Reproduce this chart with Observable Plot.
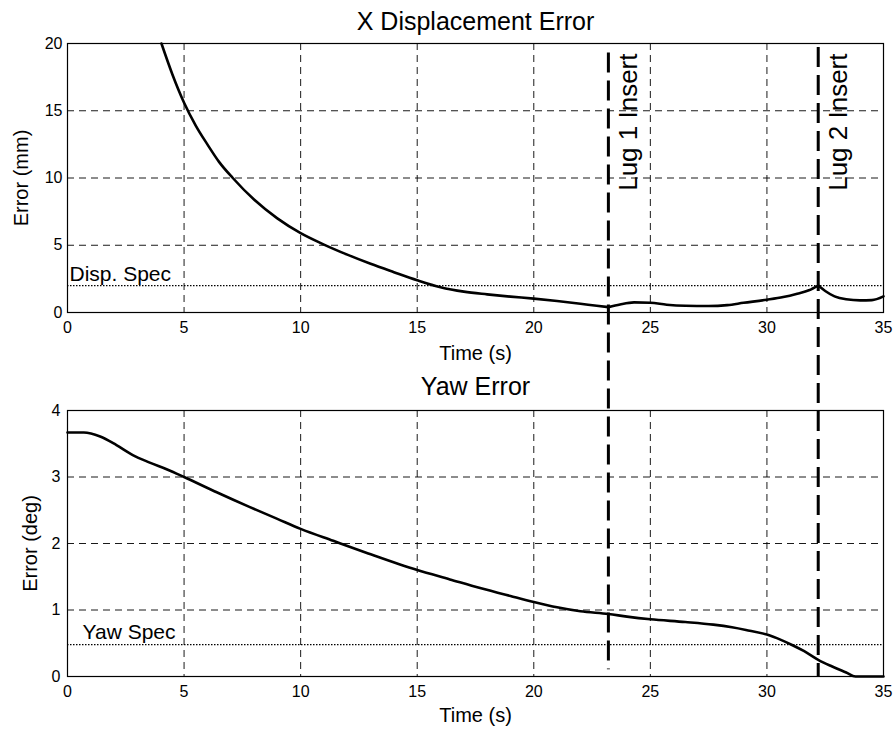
<!DOCTYPE html>
<html><head><meta charset="utf-8">
<script src="https://cdn.jsdelivr.net/npm/d3@7"></script>
<script src="https://cdn.jsdelivr.net/npm/@observablehq/plot@0.6"></script>
<style>
body{margin:0;background:#fff;}
#fig{position:relative;width:896px;height:731px;overflow:hidden;background:#fff;}
#fig svg{position:absolute;left:0;}
</style></head><body><div id="fig"></div>
<script>
// ---- data ----
const xTicks = [0, 5, 10, 15, 20, 25, 30, 35];
const dispTicks = [0, 5, 10, 15, 20];
const yawTicks = [0, 1, 2, 3, 4];

const dispTime  = [4.03, 4.5, 5.0, 5.5, 6.0, 6.5, 7.09, 8.0, 9.0, 10.0, 11.0, 12.0, 13.0, 14.0, 15.0, 16.0, 17.0, 18.0, 19.0, 20.0, 21.0, 22.0, 22.7, 23.2, 23.7, 24.3, 25.0, 25.7, 26.5, 27.5, 28.3, 29.0, 30.0, 30.7, 31.3, 31.8, 32.2, 32.5, 32.9, 33.4, 34.0, 34.5, 35.0];
const dispError = [20.0, 17.7, 15.6, 13.9, 12.5, 11.2, 10.0, 8.4, 7.0, 5.9, 5.05, 4.3, 3.62, 3.0, 2.4, 1.88, 1.55, 1.35, 1.18, 1.03, 0.85, 0.65, 0.5, 0.4, 0.6, 0.75, 0.72, 0.58, 0.5, 0.48, 0.55, 0.72, 0.95, 1.15, 1.4, 1.65, 2.0, 1.6, 1.2, 0.98, 0.9, 0.92, 1.2];

const yawTime  = [0, 0.7, 1.4, 2.1, 2.8, 3.5, 4.3, 5.0, 6.4, 7.8, 9.0, 10.0, 11.4, 12.9, 15.0, 16.4, 17.7, 19.0, 20.0, 21.0, 22.0, 23.2, 24.0, 25.0, 26.5, 27.7, 28.5, 29.1, 30.0, 30.6, 31.1, 31.6, 32.2, 32.8, 33.4, 33.8, 35.0];
const yawError = [3.67, 3.67, 3.61, 3.48, 3.33, 3.22, 3.11, 3.0, 2.77, 2.55, 2.37, 2.22, 2.04, 1.85, 1.6, 1.46, 1.33, 1.21, 1.12, 1.04, 0.98, 0.94, 0.9, 0.86, 0.82, 0.78, 0.74, 0.70, 0.63, 0.55, 0.47, 0.38, 0.25, 0.15, 0.06, 0.0, 0.0];

const dispSpec = 2;
const yawSpec = 0.48;
const lugTimes = [23.2, 32.2];
const lugLabels = ["Lug 1 Insert", "Lug 2 Insert"];
const lugStartDisp = [19.3, 19.7];   // mm, where the dashed markers begin
const lugEndYaw = [0.1, 0.0];        // deg, where the dashed markers end
const titles = ["X Displacement Error", "Yaw Error"];
const xLabel = "Time (s)";
const yLabels = ["Error (mm)", "Error (deg)"];
const specLabels = ["Disp. Spec", "Yaw Spec"];

(function () {
  const W = 896, TOP_H = 368, BOT_H = 363;
  const FONT = "'Liberation Sans', Arial, Helvetica, sans-serif";
  const baseStyle = {fontFamily: FONT, fontSize: "16px", background: "transparent", overflow: "visible", color: "black"};
  const gridStyle = {stroke: "black", strokeOpacity: 1, strokeWidth: 0.9, strokeDasharray: "7,5"};

  // split the displacement trace at the lug-insert kinks so each piece is smoothed on its own
  const dispData = [];
  dispTime.forEach((t, i) => {
    const seg = lugTimes.filter(l => t > l).length;
    dispData.push({t, v: dispError[i], seg});
    if (lugTimes.includes(t)) dispData.push({t, v: dispError[i], seg: seg + 1});
  });
  const yawData = yawTime.map((t, i) => ({t, v: yawError[i]}));

  function makeTop(lugEnds) {
    const lugs = lugTimes.map((t, i) => ({t, label: lugLabels[i], y1: lugStartDisp[i], y2: lugEnds ? lugEnds[i] : 0}));
    return Plot.plot({
      width: W, height: TOP_H,
      marginLeft: 67, marginRight: 13, marginTop: 43, marginBottom: 56,
      style: baseStyle,
      x: {domain: [0, 35]},
      y: {domain: [0, 20]},
      marks: [
        Plot.gridX(xTicks.slice(1, -1), gridStyle),
        Plot.gridY(dispTicks.slice(1, -1), gridStyle),
        Plot.ruleY([dispSpec], {stroke: "black", strokeWidth: 1.3, strokeDasharray: "1.5,1.5"}),
        Plot.line(dispData, {x: "t", y: "v", z: "seg", curve: "monotone-x", stroke: "black", strokeWidth: 2.6, strokeLinejoin: "round"}),
        Plot.frame({stroke: "black", strokeWidth: 1.2}),
        Plot.axisX(xTicks, {tickSize: 0, tickPadding: 9, label: null, fontSize: 16, tickFormat: "d"}),
        Plot.axisY(dispTicks, {tickSize: 0, tickPadding: 5, label: null, fontSize: 16, tickFormat: "d"}),
        Plot.text([titles[0]], {text: d => d, frameAnchor: "top", lineAnchor: "middle", dy: -22, fontSize: 25}),
        Plot.text([xLabel], {text: d => d, frameAnchor: "bottom", lineAnchor: "middle", dy: 41, fontSize: 20}),
        Plot.text([yLabels[0]], {text: d => d, frameAnchor: "left", textAnchor: "middle", lineAnchor: "middle", rotate: -90, dx: -46, fontSize: 20}),
        Plot.text([specLabels[0]], {text: d => d, x: 0, y: dispSpec, textAnchor: "start", lineAnchor: "bottom", dx: 2, dy: -5, fontSize: 21}),
        lugEnds ? Plot.ruleX(lugs, {x: "t", y1: "y1", y2: "y2", stroke: "black", strokeWidth: 3, strokeDasharray: "20,8"}) : null,
        Plot.text(lugs, {x: "t", text: "label", frameAnchor: "top", rotate: -90, textAnchor: "end", lineAnchor: "middle", dx: 20, dy: 10, fontSize: 26})
      ]
    });
  }

  const bottomChart = Plot.plot({
    width: W, height: BOT_H,
    marginLeft: 67, marginRight: 13, marginTop: 42, marginBottom: 55,
    style: baseStyle,
    x: {domain: [0, 35]},
    y: {domain: [0, 4]},
    marks: [
      Plot.gridX(xTicks.slice(1, -1), gridStyle),
      Plot.gridY(yawTicks.slice(1, -1), gridStyle),
      Plot.ruleY([yawSpec], {stroke: "black", strokeWidth: 1.3, strokeDasharray: "1.5,1.5"}),
      Plot.line(yawData, {x: "t", y: "v", curve: "monotone-x", stroke: "black", strokeWidth: 2.6, strokeLinejoin: "round"}),
      Plot.frame({stroke: "black", strokeWidth: 1.2}),
      Plot.axisX(xTicks, {tickSize: 0, tickPadding: 9, label: null, fontSize: 16, tickFormat: "d"}),
      Plot.axisY(yawTicks, {tickSize: 0, tickPadding: 7, label: null, fontSize: 16, tickFormat: "d"}),
      Plot.text([titles[1]], {text: d => d, frameAnchor: "top", lineAnchor: "middle", dy: -24, fontSize: 25}),
      Plot.text([xLabel], {text: d => d, frameAnchor: "bottom", lineAnchor: "middle", dy: 39, fontSize: 20}),
      Plot.text([yLabels[1]], {text: d => d, frameAnchor: "left", textAnchor: "middle", lineAnchor: "middle", rotate: -90, dx: -37, fontSize: 20}),
      Plot.text([specLabels[1]], {text: d => d, x: 0, y: yawSpec, textAnchor: "start", lineAnchor: "bottom", dx: 15, dy: -6, fontSize: 21})
    ]
  });

  // Lug markers span both panels: map their end (in the yaw panel) into the top panel's y scale.
  const probe = makeTop(null);
  const ty = probe.scale("y"), by = bottomChart.scale("y");
  const lugEndsDisp = lugEndYaw.map(v => ty.invert(TOP_H + by.apply(v)));
  const topChart = makeTop(lugEndsDisp);

  bottomChart.style.top = TOP_H + "px";
  topChart.style.top = "0px";
  const fig = document.getElementById("fig");
  fig.appendChild(bottomChart);
  fig.appendChild(topChart);
})();
</script>
</body></html>
